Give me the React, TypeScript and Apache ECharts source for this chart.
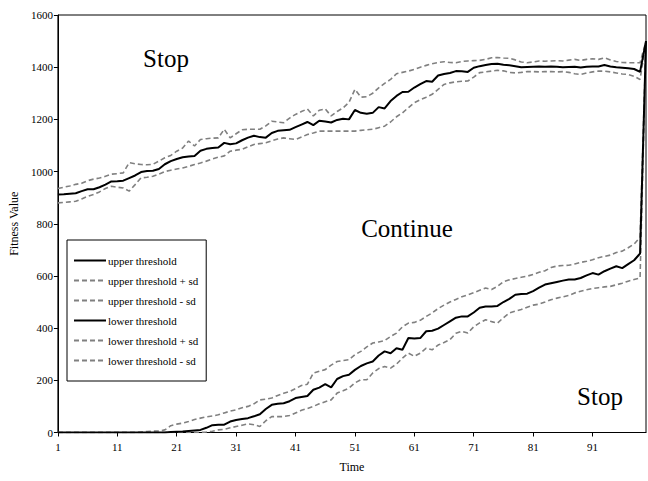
import React, { useEffect, useRef } from 'react';
import * as echarts from 'echarts';

const timeSteps: string[] = Array.from({ length: 100 }, (_, i) => String(i + 1));

const upperThreshold = [
  912, 913, 915, 917, 925, 932, 932, 940, 950, 962,
  963, 965, 975, 985, 998, 1002, 1003, 1010, 1028, 1040,
  1048, 1055, 1058, 1060, 1080, 1087, 1090, 1092, 1110, 1105,
  1108, 1120, 1130, 1137, 1132, 1130, 1148, 1156, 1158, 1160,
  1170, 1180, 1190, 1178, 1195, 1192, 1188, 1198, 1202, 1200,
  1236, 1225, 1222, 1225, 1247, 1242, 1270, 1290, 1305, 1306,
  1322, 1335, 1347, 1344, 1368, 1374, 1378, 1385, 1384, 1382,
  1398, 1404, 1408, 1412, 1413, 1409, 1407, 1404, 1400, 1401,
  1402, 1403, 1402, 1403, 1402, 1400, 1401, 1402, 1399, 1402,
  1403, 1403, 1408, 1403, 1400, 1398, 1396, 1393, 1382, 1500,
];

const upperPlusSd = [
  935, 940, 945, 951, 955, 965, 971, 975, 982, 990,
  992, 995, 1034, 1030, 1027, 1026, 1028, 1040, 1053, 1062,
  1078, 1090, 1117, 1098, 1123, 1126, 1128, 1129, 1162, 1129,
  1145, 1160, 1162, 1162, 1162, 1175, 1193, 1190, 1187, 1205,
  1219, 1230, 1240, 1213, 1235, 1240, 1213, 1230, 1244, 1265,
  1315, 1285, 1287, 1300, 1321, 1338, 1353, 1375, 1380, 1385,
  1392, 1400, 1407, 1413, 1418, 1421, 1418, 1417, 1422, 1424,
  1425, 1426, 1430, 1436, 1437, 1435, 1434, 1428, 1420, 1417,
  1420, 1424, 1423, 1424, 1425, 1424, 1427, 1430, 1426, 1430,
  1432, 1430, 1436, 1428, 1422, 1418, 1417, 1417, 1417, 1500,
];

const upperMinusSd = [
  880, 882, 884, 886, 895, 905, 912, 922, 935, 944,
  940, 937, 925, 950, 976, 978, 982, 990, 1000, 1005,
  1010, 1014, 1020, 1027, 1033, 1040, 1048, 1055, 1060, 1078,
  1082, 1085, 1095, 1104, 1107, 1110, 1118, 1125, 1129, 1126,
  1123, 1132, 1142, 1148, 1155, 1155, 1155, 1155, 1155, 1155,
  1155, 1158, 1160, 1162, 1168, 1174, 1190, 1210, 1225, 1245,
  1264, 1275, 1285, 1296, 1315, 1334, 1340, 1344, 1346, 1347,
  1362, 1379, 1382, 1385, 1388, 1386, 1380, 1378, 1380, 1383,
  1383, 1382, 1383, 1383, 1382, 1383, 1380, 1375, 1372, 1378,
  1382, 1385, 1385, 1382, 1378, 1374, 1372, 1365, 1353, 1500,
];

const lowerThreshold = [
  0, 0, 0, 0, 0, 0, 0, 0, 0, 0,
  0, 0, 0, 0, 0, 0, 0, 0, 0, 2,
  3, 4, 6, 8, 10, 18, 28, 30, 30, 42,
  48, 52, 55, 62, 70, 90, 106, 110, 112, 120,
  132, 136, 140, 164, 172, 185, 173, 205, 216, 221,
  240, 255, 265, 272, 295, 311, 304, 323, 317, 362,
  360, 362, 388, 390, 398, 412, 426, 440, 445, 445,
  460, 478, 483, 483, 485, 500, 512, 528, 531, 532,
  542, 555, 567, 572, 577, 582, 586, 586, 592, 602,
  611, 605, 618, 628, 637, 630, 645, 660, 686, 1500,
];

const lowerPlusSd = [
  0, 0, 0, 0, 0, 0, 0, 0, 0, 0,
  0, 0, 0, 0, 2, 4, 5, 6, 10, 26,
  32, 36, 42, 50, 55, 60, 63, 68, 75, 82,
  87, 95, 100, 110, 125, 128, 132, 142, 150, 157,
  168, 180, 185, 228, 235, 241, 258, 272, 276, 279,
  298, 311, 328, 343, 347, 352, 368, 381, 405, 419,
  422, 430, 445, 458, 475, 488, 500, 510, 520, 528,
  536, 545, 554, 548, 560, 578, 585, 590, 595, 599,
  606, 614, 620, 632, 638, 640, 641, 646, 652, 656,
  662, 670, 675, 680, 690, 695, 708, 722, 748, 1500,
];

const lowerMinusSd = [
  0, 0, 0, 0, 0, 0, 0, 0, 0, 0,
  0, 0, 0, 0, 0, 0, 0, 0, 0, 0,
  0, 0, 0, 0, 0, 2, 5, 10, 12, 18,
  23, 28, 33, 30, 23, 45, 61, 61, 61, 65,
  75, 85, 92, 100, 110, 118, 125, 151, 160, 170,
  190, 202, 202, 228, 245, 253, 247, 262, 285, 304,
  292, 304, 323, 317, 335, 345, 356, 380, 388, 381,
  405, 420, 432, 425, 419, 440, 458, 465, 471, 480,
  488, 492, 500, 509, 515, 520, 525, 535, 541, 547,
  552, 555, 558, 560, 566, 572, 580, 586, 592, 1500,
];

const seriesNames = [
  'upper threshold',
  'upper threshold + sd',
  'upper threshold - sd',
  'lower threshold',
  'lower threshold + sd',
  'lower threshold - sd',
];

const regionLabels = ['Stop', 'Continue', 'Stop'];
const xAxisTitle = 'Time';
const yAxisTitle = 'Fitness Value';

export default function App() {
  const ref = useRef<HTMLDivElement>(null);

  useEffect(() => {
    if (!ref.current) return;
    const chart = echarts.init(ref.current, null, { renderer: 'svg' });
    const font = 'Liberation Serif';
    const solid = { color: '#000000', width: 2, type: 'solid' as const };
    const dashed = { color: '#808080', width: 1.6, type: [5, 3] as number[] };
    const datasets = [upperThreshold, upperPlusSd, upperMinusSd, lowerThreshold, lowerPlusSd, lowerMinusSd];
    const styles = [solid, dashed, dashed, solid, dashed, dashed];

    chart.setOption({
      animation: false,
      textStyle: { fontFamily: font, color: '#000' },
      grid: {
        left: 57.5,
        right: 2,
        top: 15,
        bottom: 48.5,
        show: true,
        borderColor: '#000',
        borderWidth: 1,
        backgroundColor: 'transparent',
      },
      legend: {
        orient: 'vertical',
        left: 67,
        top: 240,
        itemWidth: 32,
        itemHeight: 12,
        itemGap: 9,
        padding: [15, 8, 15, 6],
        backgroundColor: '#fff',
        borderColor: '#000',
        borderWidth: 1,
        borderRadius: 0,
        data: seriesNames,
        itemStyle: { opacity: 0 },
        textStyle: { fontFamily: font, fontSize: 11, color: '#000', padding: [0, 0, 0, -3] },
      },
      xAxis: {
        type: 'category',
        data: timeSteps,
        boundaryGap: false,
        name: xAxisTitle,
        nameLocation: 'middle',
        nameGap: 28,
        nameTextStyle: { fontFamily: font, fontSize: 12, color: '#000' },
        axisLine: { show: true, lineStyle: { color: '#000', width: 1 } },
        axisTick: { show: true, interval: 9, length: 4, lineStyle: { color: '#000' } },
        axisLabel: { interval: 9, color: '#000', fontFamily: font, fontSize: 11, margin: 9 },
        splitLine: { show: false },
      },
      yAxis: {
        type: 'value',
        min: 0,
        max: 1600,
        interval: 200,
        name: yAxisTitle,
        nameLocation: 'middle',
        nameGap: 37,
        nameRotate: 90,
        nameTextStyle: { fontFamily: font, fontSize: 12, color: '#000' },
        axisLine: { show: true, lineStyle: { color: '#000', width: 1 } },
        axisTick: { show: true, length: 4, lineStyle: { color: '#000' } },
        axisLabel: { color: '#000', fontFamily: font, fontSize: 11, margin: 5, formatter: (v: number) => String(v) },
        splitLine: { show: false },
      },
      series: datasets.map((d, i) => ({
        name: seriesNames[i],
        type: 'line',
        data: d,
        symbol: 'none',
        showSymbol: false,
        smooth: false,
        lineStyle: styles[i],
        itemStyle: { color: styles[i].color },
        z: i === 0 || i === 3 ? 3 : 2,
      })),
      graphic: [
        {
          type: 'text',
          x: 166,
          y: 58,
          style: { text: regionLabels[0], font: '25px "Liberation Serif"', fill: '#000', align: 'center', verticalAlign: 'middle' },
        },
        {
          type: 'text',
          x: 407,
          y: 228,
          style: { text: regionLabels[1], font: '25px "Liberation Serif"', fill: '#000', align: 'center', verticalAlign: 'middle' },
        },
        {
          type: 'text',
          x: 600,
          y: 396,
          style: { text: regionLabels[2], font: '25px "Liberation Serif"', fill: '#000', align: 'center', verticalAlign: 'middle' },
        },
      ],
    });

    return () => chart.dispose();
  }, []);

  return (
    <div
      ref={ref}
      style={{ position: 'absolute', left: 0, top: 0, width: 648, height: 481, background: '#fff' }}
    />
  );
}
